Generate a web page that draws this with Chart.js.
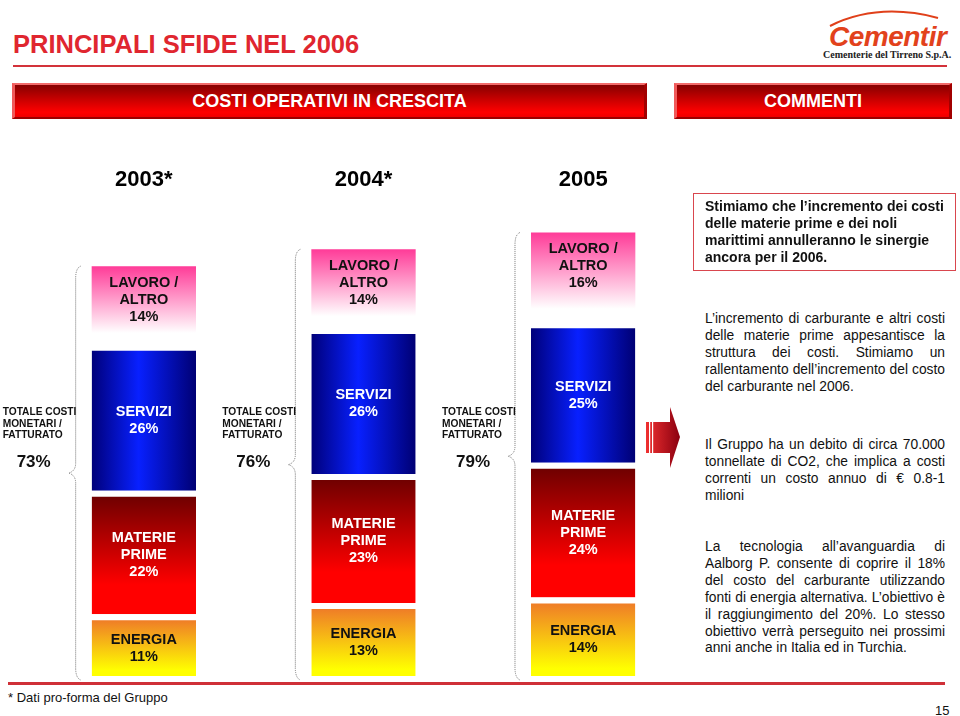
<!DOCTYPE html>
<html>
<head>
<meta charset="utf-8">
<script src="https://cdn.jsdelivr.net/npm/chart.js@4"></script>
<style>
  html, body { margin: 0; padding: 0; background: #fff; }
  body { width: 960px; height: 716px; position: relative; overflow: hidden; font-family: "Liberation Sans", Arial, sans-serif; color: #111; }
  .abs { position: absolute; }
  #title { left: 13px; top: 30px; font-size: 25.5px; font-weight: bold; color: #e0262f; }
  #titleLine { left: 13px; top: 65px; width: 934px; height: 2px; background: #d3323a; }
  .band { top: 83px; height: 36px; box-sizing: border-box; background: linear-gradient(#870000, #c80000 45%, #ff0000 85%, #f00000);
          border-top: 2px solid #f36a6a; border-left: 3px solid #f05a5a; border-bottom: 2px solid #9c0000; border-right: 3px solid #a20000;
          color: #fff; font-weight: bold; font-size: 18px; text-align: center; line-height: 32px; }
  #band1 { left: 12px; width: 635px; }
  #band2 { left: 674px; width: 278px; }
  #chartBox { left: 0; top: 150px; width: 700px; height: 540px; }
  #box { left: 693px; top: 193px; width: 263px; height: 78px; box-sizing: border-box; border: 1.5px solid #d9464e; }
  .para { left: 705px; width: 240px; font-size: 13.8px; line-height: 16.9px; }
  .para div { white-space: nowrap; text-align: justify; text-align-last: justify; }
  .para div.last { text-align-last: left; }
  #p1 { top: 198px; font-size: 14px; font-weight: bold; width: 245px; }
  #p1 div { text-align-last: left; }
  #p2 { top: 311px; }
  #p3 { top: 437px; }
  #p4 { top: 539px; }
  #footLine { left: 8px; top: 682px; width: 937px; height: 3px; background: #cf3038; }
  #foot { left: 8px; top: 690px; font-size: 13px; }
  #page { left: 935px; top: 703px; font-size: 13px; }
  #logo { left: 816px; top: 6px; width: 140px; height: 56px; }
</style>
</head>
<body>
<div id="title" class="abs">PRINCIPALI SFIDE NEL 2006</div>
<div id="titleLine" class="abs"></div>
<svg id="logo" class="abs" viewBox="0 0 140 56">
  <path d="M14 20 Q 62 -4 122 12" stroke="#e0401a" stroke-width="2" fill="none"/>
  <text x="13" y="40" font-family="Liberation Sans, sans-serif" font-style="italic" font-weight="bold" font-size="28" fill="#e2421c" letter-spacing="-0.5">Cementir</text>
  <text x="7" y="52" font-family="Liberation Serif, serif" font-weight="bold" font-size="10" fill="#222">Cementerie del Tirreno S.p.A.</text>
</svg>
<div id="band1" class="abs band">COSTI OPERATIVI IN CRESCITA</div>
<div id="band2" class="abs band">COMMENTI</div>

<div id="chartBox" class="abs"><canvas id="costChart" width="700" height="540"></canvas></div>

<svg class="abs" style="left:644px; top:405px" width="38" height="66" viewBox="0 0 38 66">
  <defs>
    <linearGradient id="arrowGrad" x1="0" y1="0" x2="1" y2="0">
      <stop offset="0" stop-color="#f03030"/>
      <stop offset="1" stop-color="#8a0010"/>
    </linearGradient>
  </defs>
  <path d="M2 17 H26 V2 L36 32 L26 63 V48 H2 Z" fill="url(#arrowGrad)"/>
  <rect x="5" y="17" width="1.2" height="31" fill="#fff"/>
  <rect x="8" y="17" width="1.2" height="31" fill="#fff"/>
</svg>

<div id="box" class="abs"></div>
<div id="p1" class="abs para">
  <div>Stimiamo che l’incremento dei costi</div>
  <div>delle materie prime e dei noli</div>
  <div>marittimi annulleranno le sinergie</div>
  <div>ancora per il 2006.</div>
</div>
<div id="p2" class="abs para">
  <div>L’incremento di carburante e altri costi</div>
  <div>delle materie prime appesantisce la</div>
  <div>struttura dei costi. Stimiamo un</div>
  <div>rallentamento dell’incremento del costo</div>
  <div class="last">del carburante nel 2006.</div>
</div>
<div id="p3" class="abs para">
  <div>Il Gruppo ha un debito di circa 70.000</div>
  <div>tonnellate di CO2, che implica a costi</div>
  <div>correnti un costo annuo di € 0.8-1</div>
  <div class="last">milioni</div>
</div>
<div id="p4" class="abs para">
  <div>La tecnologia all’avanguardia di</div>
  <div>Aalborg P. consente di coprire il 18%</div>
  <div>del costo del carburante utilizzando</div>
  <div>fonti di energia alternativa. L’obiettivo è</div>
  <div>il raggiungimento del 20%. Lo stesso</div>
  <div>obiettivo verrà perseguito nei prossimi</div>
  <div class="last">anni anche in Italia ed in Turchia.</div>
</div>

<div id="footLine" class="abs"></div>
<div id="foot" class="abs">* Dati pro-forma del Gruppo</div>
<div id="page" class="abs">15</div>

<script>
// values (% of turnover)
const years = ['2003*', '2004*', '2005'];
const energia = [11, 13, 14];
const materiePrime = [22, 23, 24];
const servizi = [26, 26, 25];
const lavoroAltro = [14, 14, 16];

const segmentNames = [['ENERGIA'], ['MATERIE', 'PRIME'], ['SERVIZI'], ['LAVORO /', 'ALTRO']];
const totalLabel = ['TOTALE COSTI', 'MONETARI /', 'FATTURATO'];

const BAR_FRAC = 0.475;
const GAP = 6;
const FONT = '"Liberation Sans", Arial, sans-serif';

// gradient per segment: direction, stops, text colour
const segStyle = [
  { dir: 'v', stops: [[0, '#ef7d27'], [0.9, '#ffff00'], [1, '#ffff00']], text: '#111' },
  { dir: 'v', stops: [[0, '#700000'], [0.75, '#ff0000'], [1, '#ff0000']], text: '#fff' },
  { dir: 'h', stops: [[0, '#00007a'], [0.45, '#0820ff'], [1, '#000074']], text: '#fff' },
  { dir: 'v', stops: [[0, '#ff3b98'], [0.85, '#ffffff'], [1, '#ffffff']], text: '#111' }
];

function segmentBox(chart, ds, i) {
  const xs = chart.scales.x, ys = chart.scales.y;
  let below = 0;
  for (let k = 0; k < ds; k++) below += chart.data.datasets[k].data[i];
  const val = chart.data.datasets[ds].data[i];
  const cx = xs.getPixelForValue(i);
  const half = xs.width / years.length * BAR_FRAC / 2;
  return { left: cx - half, right: cx + half, top: ys.getPixelForValue(below + val), bottom: ys.getPixelForValue(below) };
}

function segmentFill(ds) {
  return function (context) {
    const chart = context.chart;
    const st = segStyle[ds];
    if (!chart.chartArea || context.dataIndex === undefined) return st.stops[1][1];
    const b = segmentBox(chart, ds, context.dataIndex);
    const top = b.top + (ds < 3 ? GAP : 0);
    const g = st.dir === 'v'
      ? chart.ctx.createLinearGradient(0, top, 0, b.bottom)
      : chart.ctx.createLinearGradient(b.left, 0, b.right, 0);
    st.stops.forEach(s => g.addColorStop(s[0], s[1]));
    return g;
  };
}

const segmentLabels = {
  id: 'segmentLabels',
  afterDatasetsDraw(chart) {
    const ctx = chart.ctx;
    ctx.save();
    ctx.textAlign = 'center';
    ctx.textBaseline = 'middle';
    ctx.font = 'bold 14.5px ' + FONT;
    chart.data.datasets.forEach((ds, di) => {
      chart.getDatasetMeta(di).data.forEach((el, i) => {
        const lines = segmentNames[di].concat([ds.data[i] + '%']);
        const top = el.y + (di < 3 ? GAP : 0);
        let cy = (top + el.base) / 2;
        if (di === 3) cy = top + 34;
        ctx.fillStyle = segStyle[di].text;
        lines.forEach((t, k) => ctx.fillText(t, el.x, cy + (k - (lines.length - 1) / 2) * 17));
      });
    });
    ctx.restore();
  }
};

const braces = {
  id: 'braces',
  afterDatasetsDraw(chart) {
    const ctx = chart.ctx;
    const n = chart.data.datasets.length;
    const bottomArea = chart.chartArea.bottom;
    ctx.save();
    chart.getDatasetMeta(0).data.forEach((el, i) => {
      const topEl = chart.getDatasetMeta(n - 1).data[i];
      const top = topEl.y;
      const bottom = el.base + 4;
      const bx = el.x - el.width / 2 - 16;
      const mid = (top + bottom) / 2;
      ctx.beginPath();
      ctx.moveTo(bx + 5, top);
      ctx.quadraticCurveTo(bx, top + 2, bx, top + 12);
      ctx.lineTo(bx, mid - 10);
      ctx.quadraticCurveTo(bx, mid - 2, bx - 7, mid);
      ctx.quadraticCurveTo(bx, mid + 2, bx, mid + 10);
      ctx.lineTo(bx, bottom - 12);
      ctx.quadraticCurveTo(bx, bottom - 2, bx + 5, bottom);
      ctx.setLineDash([1, 1]);
      ctx.strokeStyle = '#777';
      ctx.lineWidth = 1;
      ctx.stroke();

      // total cost / turnover label
      let total = 0;
      chart.data.datasets.forEach(ds => { total += ds.data[i]; });
      const tx = bx - 73;
      ctx.setLineDash([]);
      ctx.fillStyle = '#111';
      ctx.textAlign = 'left';
      ctx.textBaseline = 'middle';
      ctx.font = 'bold 10.2px ' + FONT;
      totalLabel.forEach((t, k) => ctx.fillText(t, tx, bottomArea - 264 + k * 11.7));
      ctx.textAlign = 'center';
      ctx.font = 'bold 17px ' + FONT;
      ctx.fillText(total + '%', tx + 31, bottomArea - 214);
    });
    ctx.restore();
  }
};

const series = [energia, materiePrime, servizi, lavoroAltro];
const datasets = series.map((data, di) => ({
  label: segmentNames[di].join(' '),
  data: data,
  backgroundColor: segmentFill(di),
  borderColor: '#ffffff',
  borderWidth: di < 3 ? { top: GAP, left: 0, right: 0, bottom: 0 } : 0,
  borderSkipped: false,
  categoryPercentage: 1,
  barPercentage: BAR_FRAC
}));

new Chart(document.getElementById('costChart'), {
  type: 'bar',
  data: { labels: years, datasets: datasets },
  options: {
    responsive: false,
    animation: false,
    layout: { padding: { left: 34, right: 7, top: 14, bottom: 14 } },
    plugins: { legend: { display: false }, tooltip: { enabled: false } },
    scales: {
      x: {
        stacked: true,
        position: 'top',
        grid: { display: false },
        border: { display: false },
        ticks: { color: '#000', font: { family: FONT, size: 22, weight: 'bold' }, padding: 3 }
      },
      y: { stacked: true, display: false, min: 0, max: 84 }
    }
  },
  plugins: [segmentLabels, braces]
});
</script>
</body>
</html>
